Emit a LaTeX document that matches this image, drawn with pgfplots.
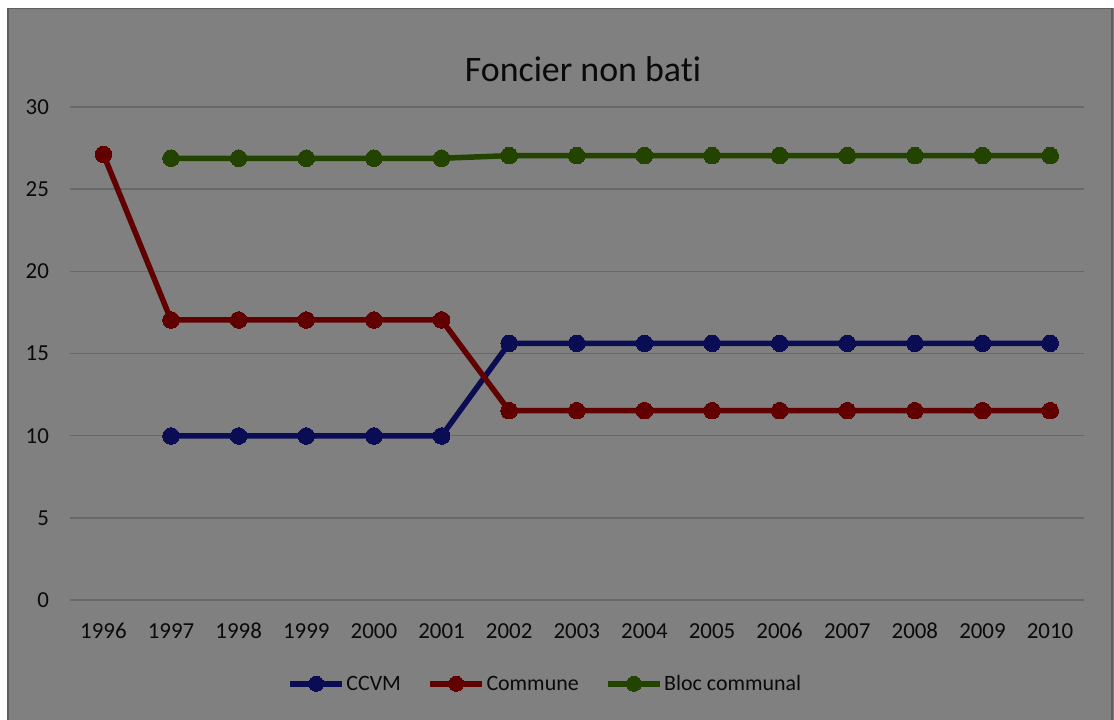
\documentclass[border=0pt]{standalone}
\usepackage{pgfplots}
\pgfplotsset{compat=1.18}
\usepackage{fontspec}
\setmainfont{Carlito}[Ligatures=NoCommon]
\definecolor{bg}{RGB}{128,128,128}
\definecolor{rim}{RGB}{95,95,95}
\definecolor{gridc}{RGB}{104,104,104}
\definecolor{txt}{RGB}{10,10,10}
\definecolor{cblue}{RGB}{10,12,84}
\definecolor{cred}{RGB}{96,0,0}
\definecolor{cgreen}{RGB}{34,68,0}
\begin{document}
\begin{tikzpicture}
\useasboundingbox (0,0) rectangle (1114bp,720bp);
\fill[white] (0,0) rectangle (1114bp,720bp);
\fill[bg] (7bp,0) rectangle (1114bp,712bp);
\draw[rim, line width=1.5bp] (7.75bp,-2bp) -- (7.75bp,711.25bp) -- (1111.75bp,711.25bp) -- (1111.75bp,-2bp);
\begin{axis}[
  at={(69.6bp,120bp)}, anchor=south west,
  scale only axis, width=1014.4bp, height=493bp,
  xmin=1995.5, xmax=2010.5, ymin=0, ymax=30,
  axis line style={draw=none},
  xtick={1996,...,2010}, ytick={0,5,...,30},
  ymajorgrids, grid style={gridc, line width=1.5bp},
  major tick length=0pt,
  /pgf/number format/assume math mode=true,
  /pgf/number format/set thousands separator={},
  tick label style={font=\fontsize{23}{27}\selectfont, text=txt, inner sep=0pt},
  yticklabel style={anchor=east, xshift=-20.5bp},
  xticklabel style={anchor=north, yshift=-23bp},
  clip=false,
  legend columns=3,
  legend style={at={(0.4687,-0.170)}, anchor=center, draw=none, fill=none,
    font=\fontsize{22}{26}\selectfont, text=txt,
    nodes={inner sep=1.5bp},
    /tikz/every even column/.append style={column sep=25bp}},
  legend image code/.code={\draw[mark repeat=2,mark phase=2,#1, mark size=7.5bp] plot coordinates {(0bp,0bp) (26bp,0bp) (52bp,0bp)};},
  every axis plot/.append style={line width=5.5bp, mark=*, mark size=8.3bp},
]
\addplot[cblue, mark options={fill=cblue, draw=cblue, line width=0pt}] coordinates {
(1997,9.98) (1998,9.98) (1999,9.98) (2000,9.98) (2001,9.98)
(2002,15.62) (2003,15.62) (2004,15.62) (2005,15.62) (2006,15.62)
(2007,15.62) (2008,15.62) (2009,15.62) (2010,15.62)};
\addlegendentry{CCVM}
\addplot[cred, mark options={fill=cred, draw=cred, line width=0pt}] coordinates {
(1996,27.12) (1997,17.04) (1998,17.04) (1999,17.04) (2000,17.04) (2001,17.04)
(2002,11.52) (2003,11.52) (2004,11.52) (2005,11.52) (2006,11.52)
(2007,11.52) (2008,11.52) (2009,11.52) (2010,11.52)};
\addlegendentry{Commune}
\addplot[cgreen, mark options={fill=cgreen, draw=cgreen, line width=0pt}] coordinates {
(1997,26.88) (1998,26.88) (1999,26.88) (2000,26.88) (2001,26.88)
(2002,27.04) (2003,27.04) (2004,27.04) (2005,27.04) (2006,27.04)
(2007,27.04) (2008,27.04) (2009,27.04) (2010,27.04)};
\addlegendentry{Bloc communal}
\end{axis}
\node[anchor=base, text=txt, font=\fontsize{36}{40}\selectfont, inner sep=0pt] at (583bp,638bp) {Foncier non bati};
\end{tikzpicture}
\end{document}
